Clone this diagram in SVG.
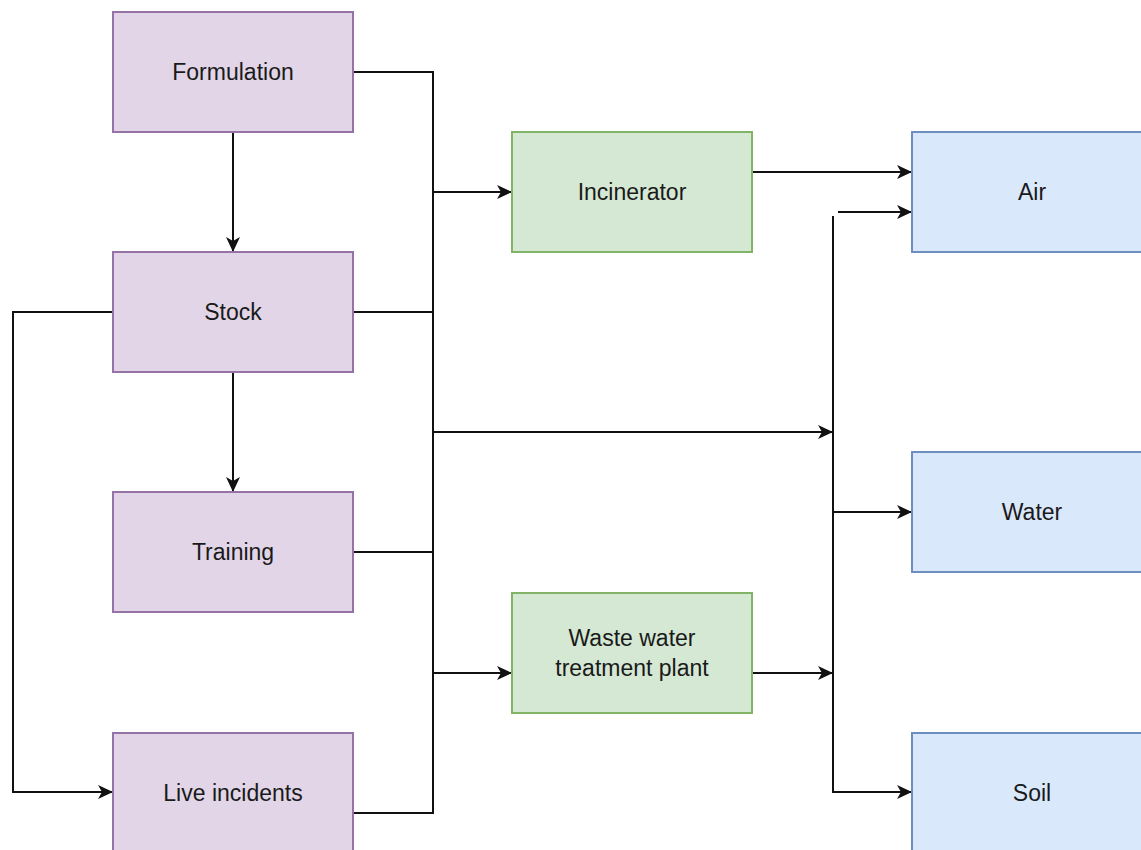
<svg xmlns="http://www.w3.org/2000/svg" width="1141" height="850" viewBox="0 0 1141 850">
<style>
.p{fill:#e1d5e7;stroke:#9673a6;stroke-width:2}
.g{fill:#d5e8d4;stroke:#82b366;stroke-width:2}
.b{fill:#dae8fc;stroke:#6c8ebf;stroke-width:2}
.t{font-family:"Liberation Sans",Arial,sans-serif;font-size:23px;fill:#1a1a1a;text-anchor:middle}
.c{fill:none;stroke:#111;stroke-width:2}
.a{marker-end:url(#arr)}
</style>
<defs>
<marker id="arr" markerUnits="userSpaceOnUse" markerWidth="16" markerHeight="14" refX="15" refY="7" orient="auto">
<path d="M0,0 L15,7 L0,14 L4,7 z" fill="#111"/>
</marker>
</defs>
<rect width="1141" height="850" fill="#fff"/>
<g id="connectors">
<path class="c a" d="M233,132 V252"/>
<path class="c a" d="M233,372 V492"/>
<path class="c" d="M353,72 H433 V813 H353"/>
<path class="c" d="M353,312 H433"/>
<path class="c" d="M353,552 H433"/>
<path class="c a" d="M433,192 H512"/>
<path class="c a" d="M433,432 H833"/>
<path class="c a" d="M433,673 H512"/>
<path class="c a" d="M752,172 H912"/>
<path class="c a" d="M752,673 H833"/>
<path class="c a" d="M838,212 H912"/>
<path class="c a" d="M833,216 V792 H912"/>
<path class="c a" d="M833,512 H912"/>
<path class="c a" d="M113,312 H13 V792 H113"/>
</g>
<g id="formulation"><rect class="p" x="113" y="12" width="240" height="120"/><text class="t" x="233" y="80">Formulation</text></g>
<g id="stock"><rect class="p" x="113" y="252" width="240" height="120"/><text class="t" x="233" y="320">Stock</text></g>
<g id="training"><rect class="p" x="113" y="492" width="240" height="120"/><text class="t" x="233" y="560">Training</text></g>
<g id="live-incidents"><rect class="p" x="113" y="733" width="240" height="120"/><text class="t" x="233" y="801">Live incidents</text></g>
<g id="incinerator"><rect class="g" x="512" y="132" width="240" height="120"/><text class="t" x="632" y="200">Incinerator</text></g>
<g id="wwtp"><rect class="g" x="512" y="593" width="240" height="120"/><text class="t" x="632" y="646">Waste water</text><text class="t" x="632" y="676">treatment plant</text></g>
<g id="air"><rect class="b" x="912" y="132" width="240" height="120"/><text class="t" x="1032" y="200">Air</text></g>
<g id="water"><rect class="b" x="912" y="452" width="240" height="120"/><text class="t" x="1032" y="520">Water</text></g>
<g id="soil"><rect class="b" x="912" y="733" width="240" height="120"/><text class="t" x="1032" y="801">Soil</text></g>
</svg>
